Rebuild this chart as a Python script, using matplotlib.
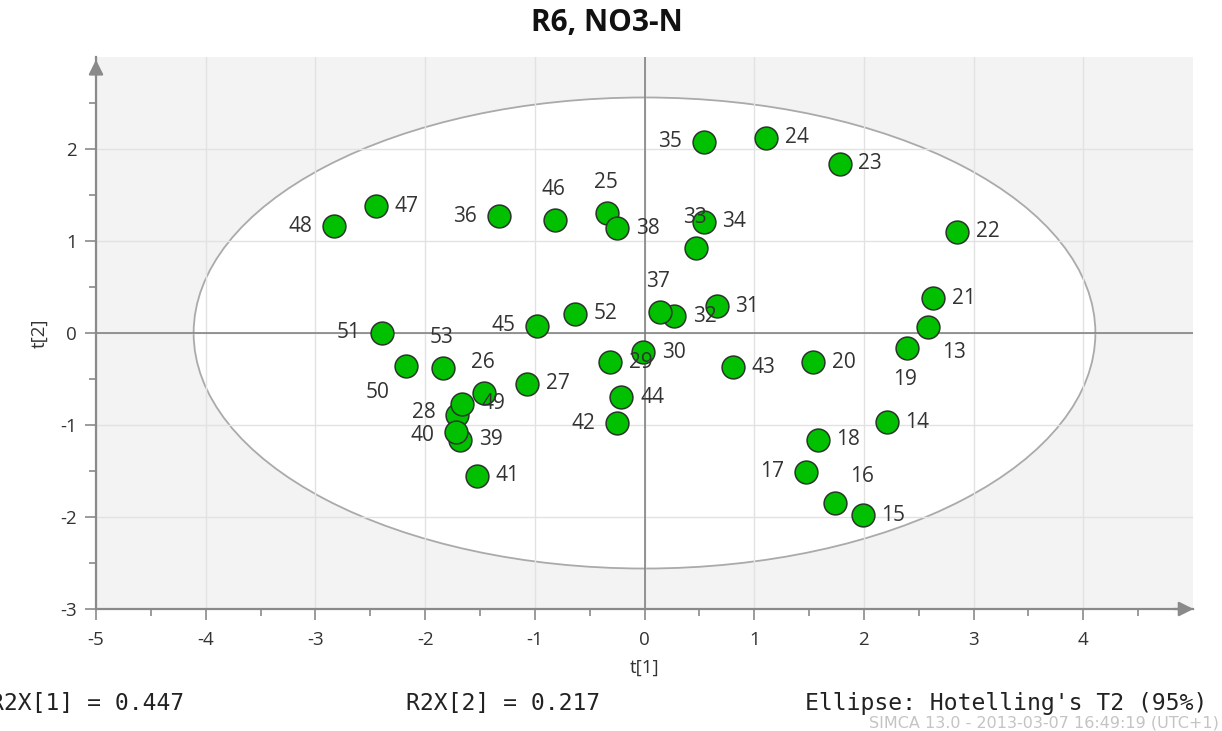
import matplotlib
matplotlib.use("Agg")
import matplotlib.pyplot as plt
from matplotlib.patches import Ellipse

plt.rcParams["axes.unicode_minus"] = False

# PCA score plot t[1] vs t[2] with Hotelling's T2 ellipse
obs = list(range(13, 54))
t1 = [2.58, 2.21, 1.99, 1.74, 1.47, 1.58, 2.39, 1.54, 2.63, 2.85,
      1.78, 1.11, -0.34, -1.46, -1.07, -1.71, -0.31, -0.01, 0.66, 0.27,
      0.47, 0.54, 0.54, -1.33, 0.14, -0.25, -1.68, -1.72, -1.53, -0.25,
      0.81, -0.21, -0.98, -0.82, -2.45, -2.83, -1.66, -2.17, -2.39, -0.63,
      -1.84]
t2 = [0.07, -0.97, -1.98, -1.85, -1.51, -1.16, -0.16, -0.32, 0.38, 1.10,
      1.84, 2.12, 1.30, -0.65, -0.55, -0.89, -0.32, -0.21, 0.29, 0.18,
      0.92, 1.21, 2.08, 1.27, 0.23, 1.14, -1.16, -1.08, -1.55, -0.98,
      -0.37, -0.70, 0.08, 1.23, 1.38, 1.16, -0.77, -0.36, 0.00, 0.21,
      -0.38]

# where each observation name sits relative to its marker
label_side = {13: "br", 16: "ar", 17: "l", 19: "b", 25: "a", 26: "a", 28: "lu",
              33: "a", 35: "l", 36: "l", 37: "a", 40: "ld", 42: "l", 45: "l",
              46: "a", 48: "l", 50: "bl", 51: "l", 53: "a"}
side_offset = {"r": (22, 0), "l": (-24, 0), "lu": (-24, 2), "ld": (-24, -2),
               "a": (-1, 22), "b": (-1, -23),
               "br": (19, -19), "bl": (-21, -19), "ar": (19, 19)}

# Hotelling's T2 (95%) limits
t2_lim_1 = 4.11
t2_lim_2 = 2.56

r2x = [0.447, 0.217]

xticks = [-5, -4, -3, -2, -1, 0, 1, 2, 3, 4]
yticks = [-3, -2, -1, 0, 1, 2]

txt = "#333333"
axis_gray = "#8a8a8a"

fig = plt.figure(figsize=(12.22, 7.31), dpi=100)
ax = fig.add_axes([96 / 1222, 122 / 731, 1097 / 1222, 552 / 731])
ax.set_facecolor("#f3f3f3")
ax.set_xlim(-5, 5.0)
ax.set_ylim(-3, 3.0)

ax.add_patch(Ellipse((0, 0), 2 * t2_lim_1, 2 * t2_lim_2, facecolor="white",
                     edgecolor="#aaaaaa", lw=1.3, zorder=0.5))

for v in xticks:
    ax.axvline(v, color="#e2e2e2", lw=1, zorder=1)
for v in yticks:
    ax.axhline(v, color="#e2e2e2", lw=1, zorder=1)
ax.axvline(0, color="#7a7a7a", lw=1.1, zorder=1.5)
ax.axhline(0, color="#7a7a7a", lw=1.1, zorder=1.5)

ax.scatter(t1, t2, s=270, facecolor="#00c000", edgecolor="#2a352a",
           linewidth=1.1, zorder=3)

for name, x, y in zip(obs, t1, t2):
    dx, dy = side_offset[label_side.get(name, "r")]
    ax.annotate(str(name), (x, y), xytext=(dx, dy), textcoords="offset points",
                ha="center", va="center", fontsize=15, color=txt,
                family="Open Sans", zorder=4)

for s in ["top", "right"]:
    ax.spines[s].set_visible(False)
for s in ["left", "bottom"]:
    ax.spines[s].set_color(axis_gray)
    ax.spines[s].set_linewidth(1.6)

ax.set_xticks(xticks)
ax.set_yticks(yticks)
ax.set_xticks([v + 0.5 for v in xticks], minor=True)
ax.set_yticks([v + 0.5 for v in yticks], minor=True)
ax.tick_params(which="major", length=8, width=1.2, color=axis_gray,
               labelsize=13.5, labelcolor=txt)
ax.tick_params(which="minor", length=5, width=1.2, color=axis_gray)
ax.tick_params(axis="x", which="major", pad=8)
ax.tick_params(axis="y", which="major", pad=6)
for lab in ax.get_xticklabels() + ax.get_yticklabels():
    lab.set_family("Open Sans")

# arrow heads on the axes
ax.annotate("", xy=(1.003, 0), xytext=(0.98, 0), xycoords="axes fraction",
            arrowprops=dict(arrowstyle="-|>", color=axis_gray, lw=1.6,
                            mutation_scale=22), annotation_clip=False)
ax.annotate("", xy=(0, 1.0), xytext=(0, 0.96), xycoords="axes fraction",
            arrowprops=dict(arrowstyle="-|>", color=axis_gray, lw=1.6,
                            mutation_scale=22), annotation_clip=False)

ax.set_xlabel("t[1]", fontsize=13.5, color=txt, family="Open Sans")
ax.set_ylabel("t[2]", fontsize=13.5, color=txt, family="Open Sans")
ax.xaxis.set_label_coords(0.5, -0.09)
ax.yaxis.set_label_coords(-0.043, 0.5)

fig.text(0.497, 0.968, "R6, NO3-N", ha="center", va="center", fontsize=21.5,
         fontweight="bold", family="Open Sans", color="#111111")

mono = dict(fontsize=16.6, family="DejaVu Sans Mono", color="#222222", va="baseline")
base = 1 - 710 / 731
fig.text(-10 / 1222, base, f"R2X[1] = {r2x[0]:.3f}", ha="left", **mono)
fig.text(406 / 1222, base, f"R2X[2] = {r2x[1]:.3f}", ha="left", **mono)
fig.text(805 / 1222, base, "Ellipse: Hotelling's T2 (95%)", ha="left", **mono)
fig.text(1219 / 1222, 1 - 728 / 731, "SIMCA 13.0 - 2013-03-07 16:49:19 (UTC+1)",
         ha="right", va="baseline", fontsize=11.5, color="#c4c4c4",
         family="DejaVu Sans")

fig.savefig("out.png", dpi=100)
